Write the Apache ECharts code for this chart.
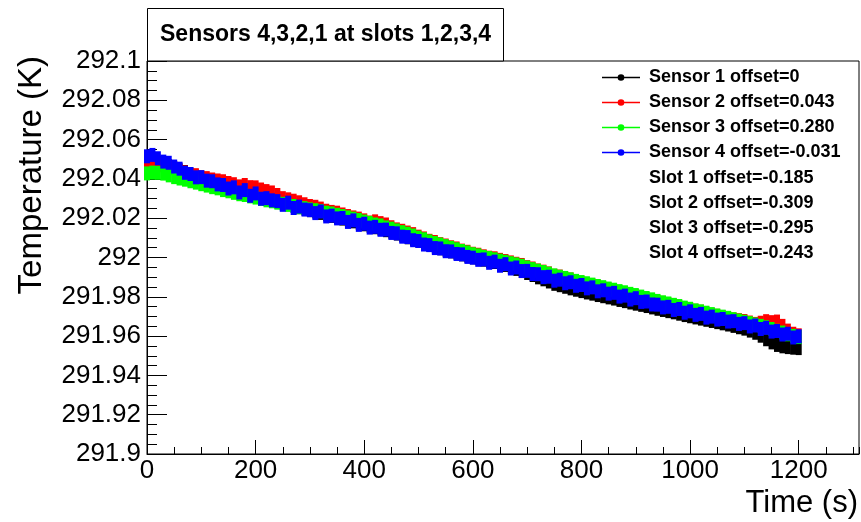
<!DOCTYPE html>
<html>
<head>
<meta charset="utf-8">
<script src="https://cdn.jsdelivr.net/npm/echarts@6/dist/echarts.min.js"></script>
<style>
html,body{margin:0;padding:0;background:#fff;}
#chart{width:861px;height:522px;}
</style>
</head>
<body>
<div id="chart"></div>
<script>
var titleText = 'Sensors 4,3,2,1 at slots 1,2,3,4';
var xTitle = 'Time (s)';
var yTitle = 'Temperature (K)';
var seriesNames = ['Sensor 1 offset=0', 'Sensor 2 offset=0.043', 'Sensor 3 offset=0.280', 'Sensor 4 offset=-0.031'];
var seriesColors = ['#000000', '#ff0000', '#00ff00', '#0000ff'];
var slotLabels = ['Slot 1 offset=-0.185', 'Slot 2 offset=-0.309', 'Slot 3 offset=-0.295', 'Slot 4 offset=-0.243'];

var times = [0,10,20,30,40,50,60,70,80,90,100,110,120,130,140,150,160,170,180,190,200,
210,220,230,240,250,260,270,280,290,300,310,320,330,340,350,360,370,380,390,400,
410,420,430,440,450,460,470,480,490,500,510,520,530,540,550,560,570,580,590,600,
610,620,630,640,650,660,670,680,690,700,710,720,730,740,750,760,770,780,790,800,
810,820,830,840,850,860,870,880,890,900,910,920,930,940,950,960,970,980,990,1000,
1010,1020,1030,1040,1050,1060,1070,1080,1090,1100,1110,1120,1130,1140,1150,1160,1170,1180,1190,1200];

var sensor1 = [292.0482,292.0486,292.0481,292.0474,292.0465,292.0457,292.0444,292.0435,292.0421,292.0412,292.0401,
292.0395,292.0383,292.0377,292.0366,292.0358,292.0349,292.0341,292.0334,292.0326,292.0318,
292.0309,292.0302,292.0294,292.0286,292.0279,292.0271,292.0263,292.0256,292.0249,292.0241,
292.0234,292.0227,292.0219,292.0212,292.0205,292.0198,292.0191,292.0184,292.0176,292.0169,
292.0161,292.0154,292.0147,292.0139,292.0131,292.0122,292.0113,292.0103,292.0094,292.0084,
292.0075,292.0065,292.0056,292.0047,292.0039,292.0031,292.0024,292.0016,292.0009,292.0001,
291.9996,291.9989,291.9983,291.9977,291.9970,291.9962,291.9951,291.9942,291.9932,291.9921,
291.9911,291.9899,291.9889,291.9878,291.9866,291.9859,291.9851,291.9843,291.9836,291.9829,
291.9822,291.9816,291.9809,291.9803,291.9797,291.9791,291.9784,291.9778,291.9771,291.9765,
291.9759,291.9753,291.9746,291.9739,291.9733,291.9727,291.9721,291.9714,291.9707,291.9701,
291.9695,291.9689,291.9683,291.9677,291.9671,291.9665,291.9659,291.9652,291.9645,291.9638,
291.9628,291.9617,291.9602,291.9584,291.9568,291.9555,291.9548,291.9544,291.9541,291.9539];

var sensor2 = [292.0472,292.0478,292.0475,292.0469,292.0462,292.0455,292.0441,292.0433,292.0422,292.0419,292.0408,
292.0404,292.0397,292.0392,292.0388,292.0379,292.0373,292.0362,292.0369,292.0358,292.0357,
292.0346,292.0338,292.0331,292.0318,292.0302,292.0296,292.0289,292.0281,292.0271,292.0262,
292.0258,292.0249,292.0238,292.0232,292.0228,292.0219,292.0211,292.0204,292.0198,292.0189,
292.0178,292.0184,292.0175,292.0168,292.0154,292.0143,292.0136,292.0127,292.0119,292.0106,
292.0097,292.0085,292.0079,292.0068,292.0061,292.0052,292.0046,292.0035,292.0029,292.0019,
292.0014,292.0006,291.9999,291.9996,291.9988,291.9982,291.9975,291.9968,291.9962,291.9951,
291.9944,291.9934,291.9928,291.9919,291.9907,291.9903,291.9894,291.9888,291.9876,291.9872,
291.9864,291.9859,291.9852,291.9845,291.9838,291.9833,291.9824,291.9818,291.9806,291.9804,
291.9795,291.9788,291.9783,291.9774,291.9769,291.9762,291.9756,291.9749,291.9741,291.9738,
291.9729,291.9724,291.9716,291.9708,291.9703,291.9696,291.9692,291.9685,291.9681,291.9677,
291.9669,291.9662,291.9668,291.9676,291.9671,291.9674,291.9652,291.9628,291.9612,291.9604];

var sensor3 = [292.0428,292.0432,292.0431,292.0427,292.0418,292.0409,292.0402,292.0396,292.0388,292.0381,292.0373,
292.0366,292.0358,292.0352,292.0343,292.0337,292.0329,292.0322,292.0318,292.0311,292.0305,
292.0298,292.0291,292.0286,292.0279,292.0273,292.0268,292.0262,292.0256,292.0251,292.0245,
292.0241,292.0236,292.0228,292.0224,292.0217,292.0211,292.0204,292.0198,292.0191,292.0183,
292.0176,292.0168,292.0163,292.0153,292.0147,292.0138,292.0129,292.0121,292.0112,292.0101,
292.0093,292.0082,292.0074,292.0066,292.0058,292.0049,292.0042,292.0033,292.0026,292.0017,
292.0011,292.0003,291.9997,291.9991,291.9984,291.9978,291.9971,291.9965,291.9958,291.9949,
291.9941,291.9933,291.9926,291.9918,291.9909,291.9902,291.9896,291.9889,291.9881,291.9875,
291.9869,291.9862,291.9855,291.9849,291.9842,291.9836,291.9829,291.9823,291.9815,291.9809,
291.9801,291.9794,291.9787,291.9779,291.9772,291.9766,291.9759,291.9753,291.9745,291.9739,
291.9731,291.9726,291.9719,291.9712,291.9705,291.9699,291.9693,291.9686,291.9679,291.9673,
291.9666,291.9659,291.9652,291.9645,291.9636,291.9627,291.9618,291.9609,291.9601,291.9595];

var sensor4 = [292.0515,292.0522,292.0505,292.0488,292.0482,292.0463,292.0452,292.0431,292.0425,292.0408,292.0409,
292.0391,292.0388,292.0372,292.0369,292.0351,292.0357,292.0331,292.0343,292.0314,292.0326,
292.0299,292.0302,292.0291,292.0287,292.0268,292.0279,292.0252,292.0259,292.0244,292.0241,
292.0226,292.0234,292.0209,292.0213,292.0199,292.0201,292.0181,292.0189,292.0166,292.0172,
292.0152,292.0156,292.0141,292.0142,292.0125,292.0123,292.0106,292.0104,292.0088,292.0084,
292.0066,292.0063,292.0048,292.0046,292.0032,292.0031,292.0018,292.0016,292.0003,291.9999,
291.9988,291.9990,291.9973,291.9979,291.9958,291.9966,291.9944,291.9949,291.9931,291.9932,
291.9916,291.9915,291.9900,291.9902,291.9882,291.9887,291.9869,291.9874,291.9856,291.9860,
291.9843,291.9848,291.9828,291.9833,291.9816,291.9820,291.9801,291.9806,291.9786,291.9793,
291.9774,291.9776,291.9761,291.9760,291.9746,291.9749,291.9733,291.9738,291.9719,291.9726,
291.9708,291.9713,291.9694,291.9699,291.9684,291.9687,291.9674,291.9676,291.9662,291.9666,
291.9649,291.9654,291.9636,291.9642,291.9623,291.9626,291.9608,291.9612,291.9593,291.9599];

var allSensors = [sensor1, sensor2, sensor3, sensor4];

var FONT = "'Liberation Sans', Arial, Helvetica, sans-serif";
var legendIcon = 'path://M0,2.6 L40,2.6 L40,4.4 L0,4.4 Z M20,0 A3.5,3.5 0 1 1 20,7 A3.5,3.5 0 1 1 20,0 Z';

function pairs(arr) {
  return times.map(function (t, i) { return [t, arr[i]]; });
}

var chart = echarts.init(document.getElementById('chart'), null, {renderer: 'canvas'});

var series = allSensors.map(function (arr, k) {
  return {
    name: seriesNames[k],
    type: 'scatter',
    xAxisIndex: 0,
    yAxisIndex: 0,
    symbol: 'rect',
    symbolSize: [6, 14],
    itemStyle: {color: seriesColors[k], opacity: 1, borderWidth: 0},
    emphasis: {disabled: true},
    silent: true,
    animation: false,
    data: pairs(arr)
  };
});

var graphics = [
  {type: 'rect', shape: {x: 147.5, y: 8.5, width: 356, height: 52.5},
   style: {fill: '#fff', stroke: '#000', lineWidth: 1}, z: 100},
  {type: 'text', x: 160, y: 35, z: 101,
   style: {text: titleText, font: 'bold 23px ' + FONT, fill: '#000', textAlign: 'left', textVerticalAlign: 'middle'}},
  {type: 'text', x: 32, y: 56, rotation: Math.PI / 2, z: 101,
   style: {text: yTitle, font: '33px ' + FONT, fill: '#000', textAlign: 'right', textVerticalAlign: 'middle'}},
  {type: 'text', x: 858, y: 503, z: 101,
   style: {text: xTitle, font: '31px ' + FONT, fill: '#000', textAlign: 'right', textVerticalAlign: 'middle'}}
];
slotLabels.forEach(function (s, i) {
  graphics.push({type: 'text', x: 649, y: 178 + i * 25, z: 101,
    style: {text: s, font: 'bold 18px ' + FONT, fill: '#000', textAlign: 'left', textVerticalAlign: 'middle'}});
});

var option = {
  animation: false,
  backgroundColor: '#ffffff',
  grid: {left: 147, right: 2, top: 61, bottom: 68, show: true, borderColor: '#000', borderWidth: 1, backgroundColor: 'transparent'},
  legend: {
    orient: 'vertical',
    left: 602,
    top: 65,
    padding: 0,
    itemGap: 0,
    itemWidth: 38,
    itemHeight: 7,
    selectedMode: false,
    data: seriesNames.map(function (n) { return {name: n, icon: legendIcon, itemStyle: {opacity: 1}}; }),
    textStyle: {fontFamily: FONT, fontWeight: 'bold', fontSize: 18, color: '#000', lineHeight: 25, padding: [0, 0, 0, 4]}
  },
  xAxis: [
    {
      type: 'value', min: 0, max: 1311, interval: 200,
      axisLine: {show: true, lineStyle: {color: '#000', width: 1}},
      axisTick: {show: true, inside: true, length: 14, lineStyle: {color: '#000'}},
      splitLine: {show: false},
      axisLabel: {show: true, margin: 4, showMaxLabel: false, fontFamily: FONT, fontSize: 26, color: '#000',
        formatter: function (v) { return (v % 200 === 0) ? String(v) : ''; }}
    },
    {
      type: 'value', min: 0, max: 1311, interval: 50, position: 'bottom',
      axisLine: {show: false},
      axisTick: {show: true, inside: true, length: 7, lineStyle: {color: '#000'}},
      splitLine: {show: false},
      axisLabel: {show: false}
    }
  ],
  yAxis: {
    type: 'value', min: 291.9, max: 292.1, interval: 0.02,
    axisLine: {show: true, lineStyle: {color: '#000', width: 1}},
    axisTick: {show: true, inside: true, length: 20, lineStyle: {color: '#000'}},
    minorTick: {show: true, splitNumber: 4, length: 10, lineStyle: {color: '#000'}},
    splitLine: {show: false},
    minorSplitLine: {show: false},
    axisLabel: {show: true, margin: 6, fontFamily: FONT, fontSize: 26, color: '#000'}
  },
  series: series,
  graphic: graphics
};
chart.setOption(option);
</script>
</body>
</html>
